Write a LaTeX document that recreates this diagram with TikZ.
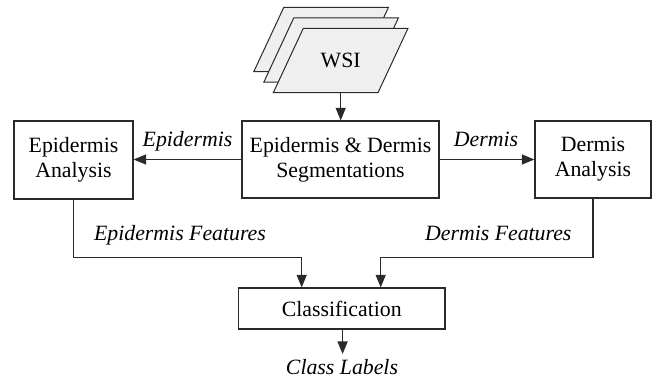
\documentclass[tikz,border=0pt]{standalone}
\usepackage{fontspec}
\setmainfont{Liberation Serif}
\usetikzlibrary{arrows.meta}
\definecolor{linec}{HTML}{2A2A2A}
\definecolor{sheetc}{HTML}{EFEFEF}
\begin{document}
\begin{tikzpicture}[x=1pt,y=-1pt,
  every node/.style={font=\fontsize{21.8}{25}\selectfont},
  box/.style={draw=linec, line width=1.2pt, align=center, inner sep=0pt, fill=white},
  conn/.style={draw=linec, line width=1.2pt, -{Triangle[length=12.5pt,width=10pt]}},
  lab/.style={font=\fontsize{21.8}{25}\selectfont\itshape, anchor=base, inner sep=0pt},
  sheet/.style={draw=linec, line width=1pt, fill=sheetc}
]
\useasboundingbox (0,0) rectangle (657,382);
% stacked WSI sheets
\foreach \dx/\dy in {-19.5/-21, -9.5/-10.5, 0/0}{
  \begin{scope}[shift={(\dx,\dy)}]
    \draw[sheet] (303.3,28.3) -- (408,28.3) -- (378,92.7) -- (273.3,92.7) -- cycle;
  \end{scope}
}
\node (wsi) at (340.7,60.5) {WSI};
\coordinate (wsib) at (340.7,92.7);
% boxes
\node[box, minimum width=197pt, minimum height=77pt] (seg) at (340.5,159.5) {Epidermis \& Dermis\\Segmentations};
\node[box, minimum width=119pt, minimum height=78pt] (epi) at (73.5,160) {Epidermis\\Analysis};
\node[box, minimum width=116pt, minimum height=77pt] (der) at (593,159.5) {Dermis\\Analysis};
\node[box, minimum width=206.5pt, minimum height=41pt] (cls) at (341.8,308.5) {Classification};
% labels
\node[lab] (lepi) at (187.5,146.7) {Epidermis};
\node[lab] (lder) at (486,146.7) {Dermis};
\node[lab] (lef) at (180,240.7) {Epidermis Features};
\node[lab] (ldf) at (498.3,240.3) {Dermis Features};
\node[lab] (lcl) at (342,375) {Class Labels};
% connectors
\coordinate (jl) at (301.7,257.3);
\coordinate (jr) at (380.7,257.3);
\coordinate (clt) at (342.6,354);
\draw[conn] (wsib) -- (wsib |- seg.north);
\draw[conn] (seg.west) -- (seg.west -| epi.east);
\draw[conn] (seg.east) -- (seg.east -| der.west);
\draw[conn] (epi.south) |- (jl) -- (jl |- cls.north);
\draw[conn] (der.south) |- (jr) -- (jr |- cls.north);
\draw[conn] (cls.south -| clt) -- (clt);
\end{tikzpicture}
\end{document}
